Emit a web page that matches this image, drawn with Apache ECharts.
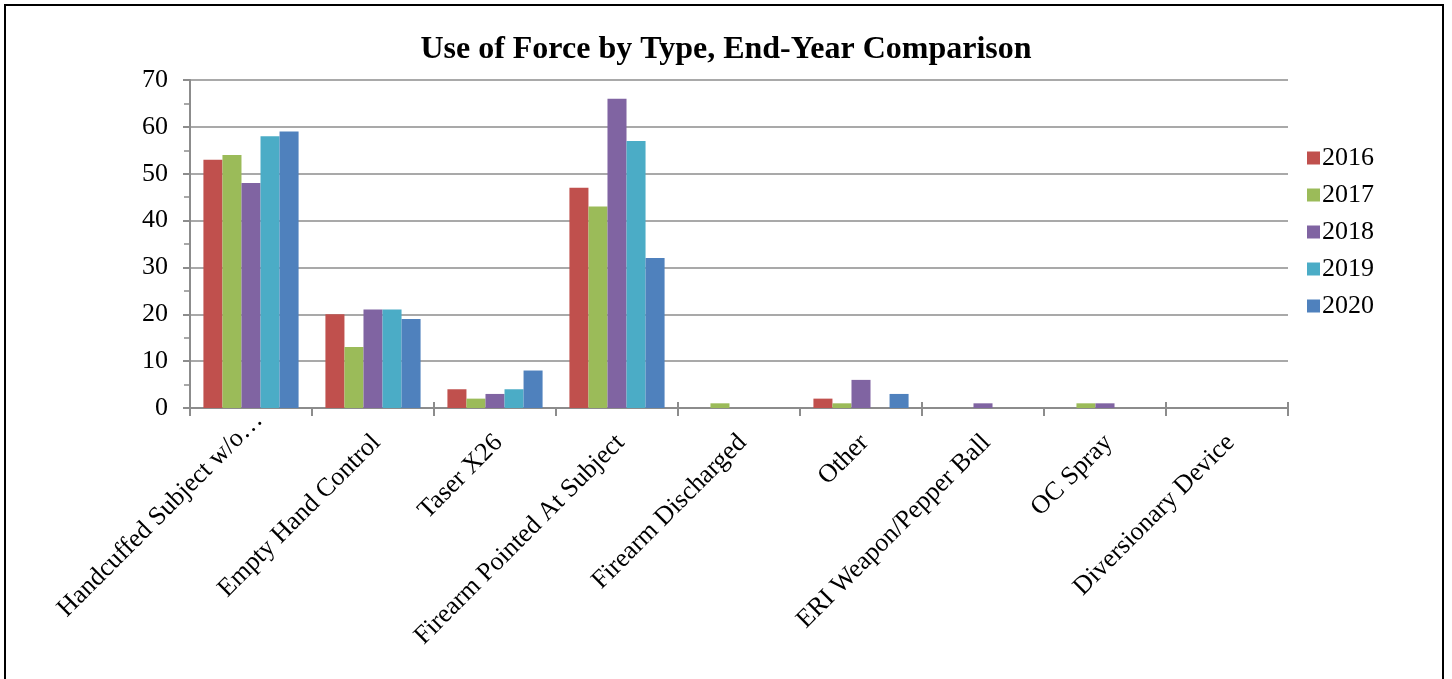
<!DOCTYPE html>
<html>
<head>
<meta charset="utf-8">
<script src="https://cdn.jsdelivr.net/npm/echarts@6/dist/echarts.min.js"></script>
<style>
  html, body { margin: 0; padding: 0; background: #fff; }
  #frame { position: absolute; left: 4px; top: 4px; width: 1440px; height: 690px; border: 2px solid #000; box-sizing: border-box; }
  #chart { position: absolute; left: 0; top: 0; width: 1452px; height: 679px; }
</style>
</head>
<body>
<div id="frame"></div>
<div id="chart"></div>
<script>
const categories = [
  'Handcuffed Subject w/o…', 'Empty Hand Control', 'Taser X26',
  'Firearm Pointed At Subject', 'Firearm Discharged', 'Other',
  'ERI Weapon/Pepper Ball', 'OC Spray', 'Diversionary Device'
];
const years = ['2016', '2017', '2018', '2019', '2020'];
const values2016 = [53, 20, 4, 47, 0, 2, 0, 0, 0];
const values2017 = [54, 13, 2, 43, 1, 1, 0, 1, 0];
const values2018 = [48, 21, 3, 66, 0, 6, 1, 1, 0];
const values2019 = [58, 21, 4, 57, 0, 0, 0, 0, 0];
const values2020 = [59, 19, 8, 32, 0, 3, 0, 0, 0];
const yTicks = [0, 10, 20, 30, 40, 50, 60, 70];

const colors = ['#C0504D', '#9BBB59', '#8064A2', '#4BACC6', '#4F81BD'];
const seriesValues = [values2016, values2017, values2018, values2019, values2020];
const serif = '"Liberation Serif", "Times New Roman", serif';
const gridColor = '#8C8C8C';

// the truncated first label sits a little further along its baseline
const categoryItems = categories.map((c, i) =>
  i === 0 ? { value: c, textStyle: { padding: [0, -11, 0, 0] } } : c
);

const chart = echarts.init(document.getElementById('chart'), null, { renderer: 'canvas' });
chart.setOption({
  animation: false,
  color: colors,
  title: {
    text: 'Use of Force by Type, End-Year Comparison',
    left: 'center',
    top: 27,
    textStyle: { fontFamily: serif, fontSize: 32, lineHeight: 36, fontWeight: 'bold', color: '#000' }
  },
  legend: {
    orient: 'vertical',
    left: 1302,
    top: 140,
    itemWidth: 13,
    itemHeight: 13,
    itemGap: 11,
    icon: 'rect',
    textStyle: { fontFamily: serif, fontSize: 26, lineHeight: 26, color: '#000', padding: [0, 0, 0, -3] },
    data: years
  },
  grid: { left: 190, right: 164, top: 80, bottom: 271, containLabel: false },
  xAxis: [{
    type: 'category',
    data: categoryItems,
    axisLine: { lineStyle: { color: gridColor, width: 2 } },
    axisTick: { show: true, length: 8, lineStyle: { color: gridColor, width: 2 } },
    axisLabel: {
      rotate: 45, margin: 16, interval: 0,
      verticalAlign: 'top',
      padding: [0, 8, 0, 0],
      fontFamily: serif, fontSize: 26, color: '#000'
    }
  }, {
    type: 'category',
    data: categories,
    position: 'bottom',
    axisLine: { show: false },
    axisTick: { show: true, inside: true, length: 6, lineStyle: { color: gridColor, width: 2 } },
    axisLabel: { show: false }
  }],
  yAxis: {
    type: 'value',
    min: 0, max: 70, interval: 10,
    axisLine: { show: true, lineStyle: { color: gridColor, width: 2 } },
    axisTick: { show: true, length: 7, lineStyle: { color: gridColor, width: 2 } },
    minorTick: { show: true, splitNumber: 2, length: 6, lineStyle: { color: gridColor, width: 1.5 } },
    splitLine: { show: true, lineStyle: { color: gridColor, width: 1.5 } },
    axisLabel: {
      margin: 22,
      fontFamily: serif, fontSize: 26, color: '#000',
      formatter: v => (yTicks.includes(v) ? String(v) : '')
    }
  },
  series: years.map((y, i) => ({
    name: y,
    type: 'bar',
    data: seriesValues[i],
    barGap: '0%',
    barCategoryGap: '22%',
    itemStyle: { color: colors[i] }
  }))
});
</script>
</body>
</html>
